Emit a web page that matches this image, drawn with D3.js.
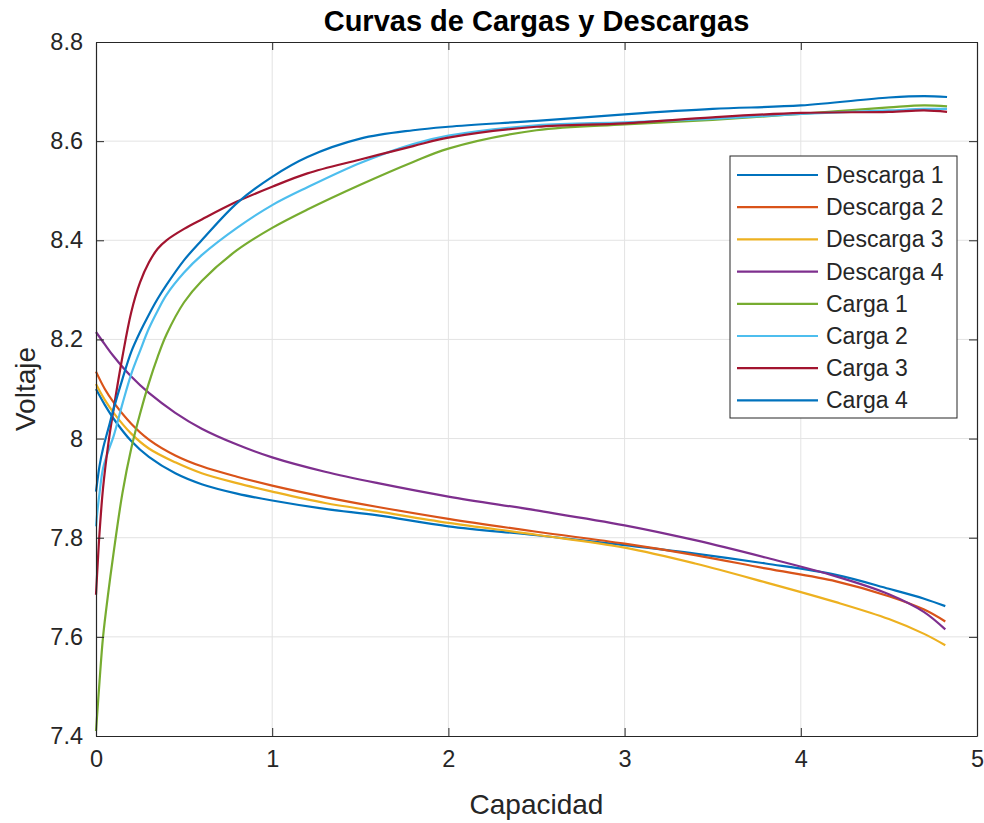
<!DOCTYPE html>
<html>
<head>
<meta charset="utf-8">
<script src="https://cdn.jsdelivr.net/npm/d3@7/dist/d3.min.js"></script>
<style>
  body { margin: 0; background: #fff; }
  text { font-family: "Liberation Sans", Arial, sans-serif; fill: #262626; }
</style>
</head>
<body>
<div id="chart"></div>
<script>
// capacidad (x) para las descargas y las cargas
const capDescarga = [0, 0.05, 0.1, 0.2, 0.3, 0.45, 0.6, 0.8, 1.0, 1.3, 1.6, 2.0, 2.5, 3.0, 3.4, 3.8, 4.2, 4.5, 4.7, 4.82];
const descarga1 = [8.10, 8.068, 8.04, 7.995, 7.963, 7.93, 7.908, 7.889, 7.875, 7.858, 7.845, 7.823, 7.805, 7.785, 7.768, 7.748, 7.725, 7.697, 7.677, 7.662];
const descarga2 = [8.135, 8.10, 8.073, 8.03, 7.998, 7.966, 7.944, 7.923, 7.905, 7.882, 7.862, 7.838, 7.812, 7.788, 7.765, 7.738, 7.712, 7.682, 7.655, 7.631];
const descarga3 = [8.11, 8.078, 8.052, 8.01, 7.98, 7.952, 7.93, 7.91, 7.893, 7.87, 7.853, 7.83, 7.806, 7.78, 7.748, 7.71, 7.67, 7.636, 7.606, 7.583];
const descarga4 = [8.215, 8.19, 8.166, 8.125, 8.092, 8.052, 8.02, 7.988, 7.962, 7.933, 7.91, 7.883, 7.855, 7.825, 7.795, 7.76, 7.722, 7.686, 7.65, 7.615];

const capCarga = [0, 0.01, 0.02, 0.04, 0.07, 0.1, 0.15, 0.2, 0.25, 0.3, 0.35, 0.4, 0.5, 0.6, 0.8, 1.0, 1.2, 1.5, 1.8, 2.0, 2.5, 3.0, 3.5, 4.0, 4.5, 4.7, 4.83];
const carga1 = [7.41, 7.46, 7.51, 7.60, 7.69, 7.77, 7.89, 7.98, 8.05, 8.112, 8.165, 8.21, 8.275, 8.318, 8.38, 8.425, 8.462, 8.512, 8.558, 8.585, 8.622, 8.634, 8.643, 8.655, 8.668, 8.672, 8.67];
const carga2 = [7.823, 7.86, 7.89, 7.94, 7.975, 8.005, 8.07, 8.13, 8.177, 8.222, 8.258, 8.29, 8.335, 8.37, 8.425, 8.471, 8.507, 8.556, 8.594, 8.611, 8.632, 8.638, 8.645, 8.655, 8.662, 8.665, 8.665];
const carga3 = [7.685, 7.75, 7.81, 7.90, 7.99, 8.06, 8.165, 8.255, 8.315, 8.355, 8.383, 8.400, 8.423, 8.442, 8.478, 8.508, 8.535, 8.563, 8.59, 8.607, 8.629, 8.636, 8.648, 8.657, 8.659, 8.662, 8.659];
const carga4 = [7.893, 7.92, 7.945, 7.98, 8.02, 8.06, 8.12, 8.175, 8.215, 8.25, 8.282, 8.31, 8.36, 8.40, 8.475, 8.528, 8.568, 8.605, 8.622, 8.629, 8.641, 8.654, 8.665, 8.672, 8.688, 8.691, 8.689];

const seriesNames = ["Descarga 1", "Descarga 2", "Descarga 3", "Descarga 4", "Carga 1", "Carga 2", "Carga 3", "Carga 4"];
const xTicks = [0, 1, 2, 3, 4, 5];
const yTicks = [7.4, 7.6, 7.8, 8, 8.2, 8.4, 8.6, 8.8];

const series = [
  { name: seriesNames[0], x: capDescarga, y: descarga1, color: "#0072BD" },
  { name: seriesNames[1], x: capDescarga, y: descarga2, color: "#D95319" },
  { name: seriesNames[2], x: capDescarga, y: descarga3, color: "#EDB120" },
  { name: seriesNames[3], x: capDescarga, y: descarga4, color: "#7E2F8E" },
  { name: seriesNames[4], x: capCarga, y: carga1, color: "#77AC30" },
  { name: seriesNames[5], x: capCarga, y: carga2, color: "#4DBEEE" },
  { name: seriesNames[6], x: capCarga, y: carga3, color: "#A2142F" },
  { name: seriesNames[7], x: capCarga, y: carga4, color: "#0072BD" }
];

const width = 984, height = 823;
const margin = { top: 42, right: 7, bottom: 87, left: 96 };
const iw = width - margin.left - margin.right;
const ih = height - margin.top - margin.bottom;

const svg = d3.select("#chart").append("svg")
  .attr("width", width)
  .attr("height", height);

const x = d3.scaleLinear().domain([0, 5]).range([0, iw]);
const y = d3.scaleLinear().domain([7.4, 8.8]).range([ih, 0]);

const g = svg.append("g").attr("transform", `translate(${margin.left},${margin.top})`);

// grid
g.append("g").selectAll("line").data(xTicks.slice(1, -1)).enter().append("line")
  .attr("x1", d => x(d)).attr("x2", d => x(d))
  .attr("y1", 0).attr("y2", ih)
  .style("stroke", "#e3e3e3").style("stroke-width", 1);
g.append("g").selectAll("line").data(yTicks.slice(1, -1)).enter().append("line")
  .attr("y1", d => y(d)).attr("y2", d => y(d))
  .attr("x1", 0).attr("x2", iw)
  .style("stroke", "#e3e3e3").style("stroke-width", 1);

// curves
const line = d3.line()
  .x(d => x(d[0]))
  .y(d => y(d[1]))
  .curve(d3.curveCatmullRom.alpha(0.5));

g.selectAll(".serie").data(series).enter().append("path")
  .attr("class", "serie")
  .attr("d", s => line(s.x.map((v, i) => [v, s.y[i]])))
  .style("fill", "none")
  .style("stroke", s => s.color)
  .style("stroke-width", 2.2)
  .style("stroke-linejoin", "round");

// axes (box with ticks inside, on all sides)
const tickLen = 8;
const fmt = d => d3.format("")(+d.toFixed(1));

const xAxis = g.append("g").attr("transform", `translate(0,${ih})`)
  .call(d3.axisBottom(x).tickValues(xTicks).tickSizeInner(-tickLen).tickSizeOuter(0).tickPadding(14).tickFormat(fmt));
const xAxisTop = g.append("g")
  .call(d3.axisTop(x).tickValues(xTicks).tickSizeInner(-tickLen).tickSizeOuter(0).tickFormat(""));
const yAxis = g.append("g")
  .call(d3.axisLeft(y).tickValues(yTicks).tickSizeInner(-tickLen).tickSizeOuter(0).tickPadding(13).tickFormat(fmt));
const yAxisRight = g.append("g").attr("transform", `translate(${iw},0)`)
  .call(d3.axisRight(y).tickValues(yTicks).tickSizeInner(-tickLen).tickSizeOuter(0).tickFormat(""));

[xAxis, xAxisTop, yAxis, yAxisRight].forEach(a => {
  a.select(".domain").style("stroke", "#262626").style("stroke-width", 1.2);
  a.selectAll(".tick line").style("stroke", "#262626");
  a.selectAll(".tick text").style("font-size", "23.5px").style("fill", "#262626");
});

// labels
svg.append("text")
  .attr("x", margin.left + iw / 2).attr("y", 31)
  .attr("text-anchor", "middle")
  .style("font-size", "29px").style("font-weight", "bold").style("fill", "#000")
  .text("Curvas de Cargas y Descargas");

svg.append("text")
  .attr("x", margin.left + iw / 2).attr("y", 814)
  .attr("text-anchor", "middle")
  .style("font-size", "28px")
  .text("Capacidad");

svg.append("text")
  .attr("transform", `translate(35,${margin.top + ih / 2}) rotate(-90)`)
  .attr("text-anchor", "middle")
  .style("font-size", "28px")
  .text("Voltaje");

// legend
const legend = svg.append("g").attr("transform", "translate(730,156)");
legend.append("rect")
  .attr("width", 227).attr("height", 262)
  .style("fill", "#fff").style("stroke", "#262626").style("stroke-width", 1);

const item = legend.selectAll(".item").data(series).enter().append("g")
  .attr("class", "item")
  .attr("transform", (d, i) => `translate(0,${19 + i * 32.2})`);
item.append("line")
  .attr("x1", 7).attr("x2", 88)
  .style("stroke", d => d.color).style("stroke-width", 2.2);
item.append("text")
  .attr("x", 96).attr("dy", "0.35em")
  .style("font-size", "23px")
  .text(d => d.name);
</script>
</body>
</html>
